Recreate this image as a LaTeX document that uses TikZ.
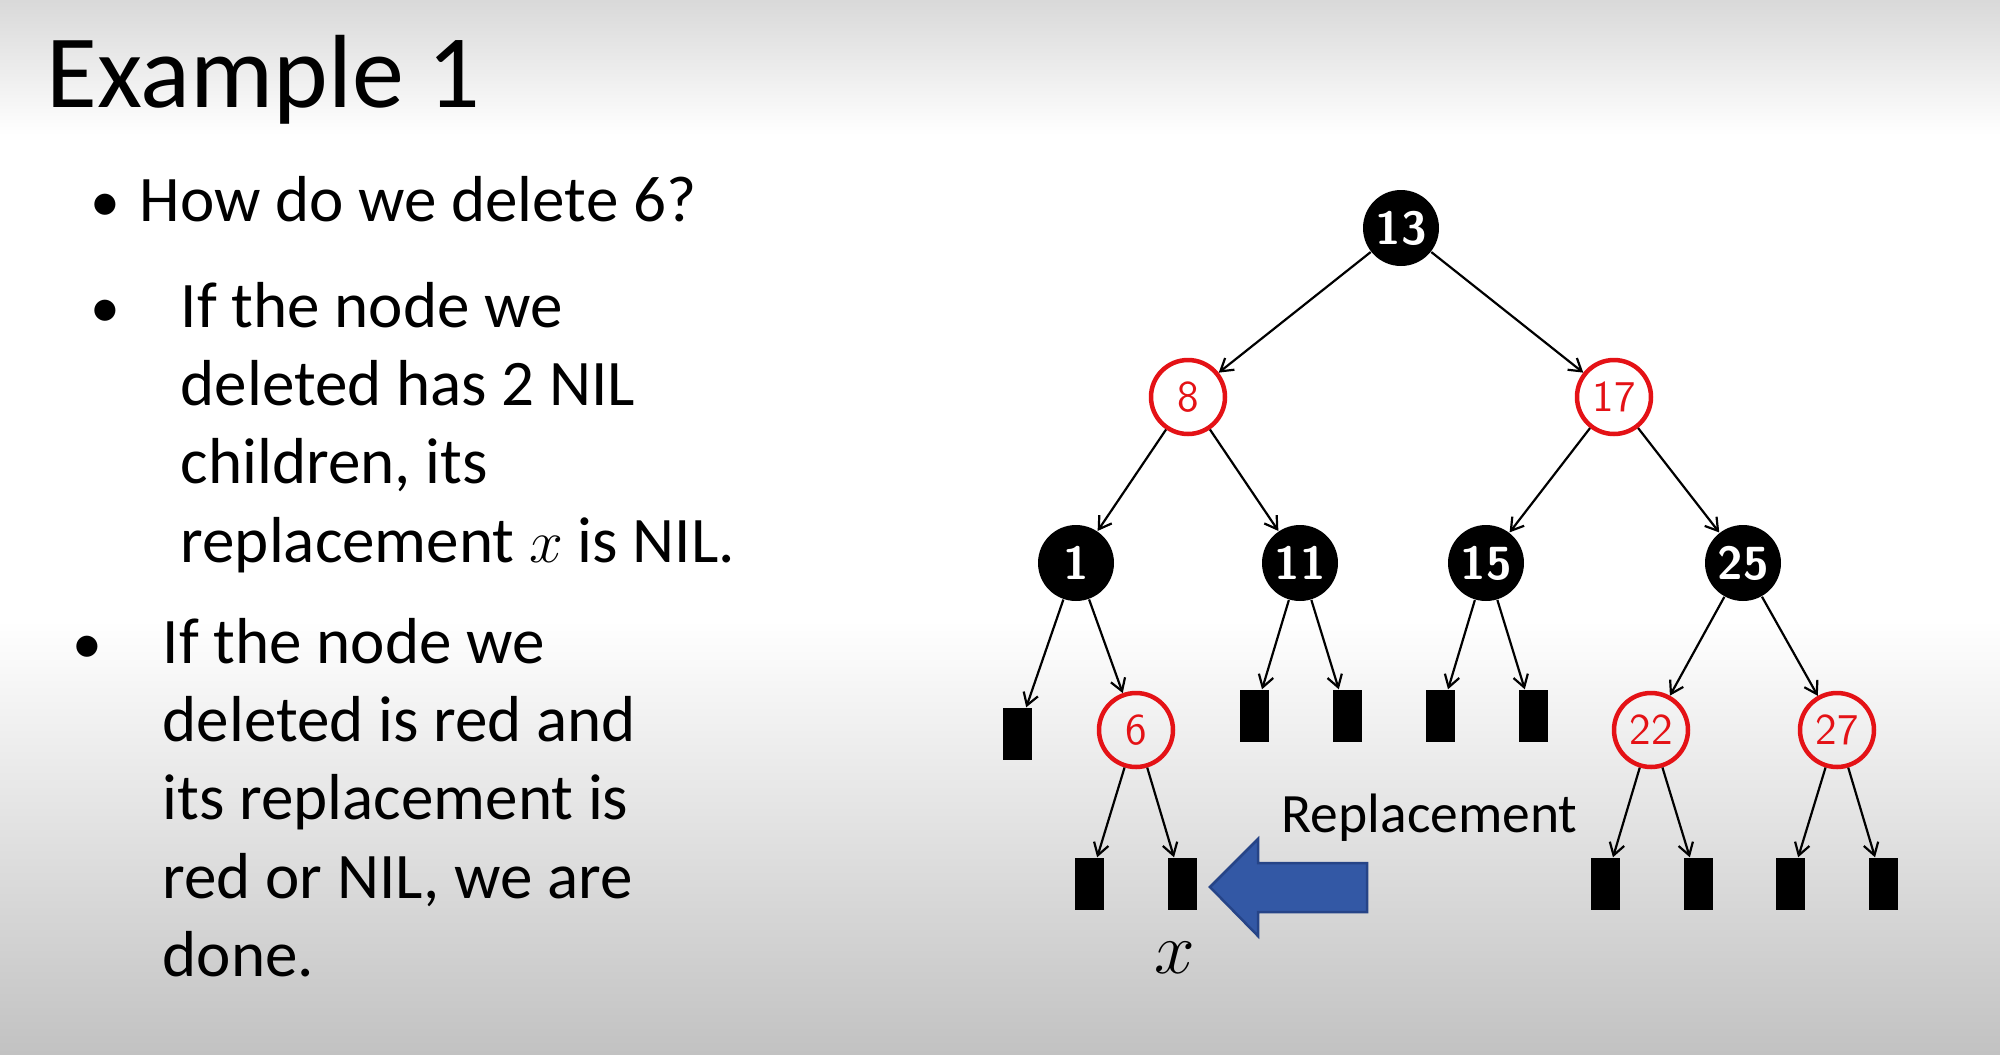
\documentclass[tikz,border=0pt]{standalone}
\usepackage{fontspec}
\setmainfont{Carlito}
\usetikzlibrary{arrows.meta}

\definecolor{rbred}{RGB}{228,18,22}
\definecolor{arrowblue}{RGB}{51,88,165}
\definecolor{arrowedge}{RGB}{38,68,135}
\newcommand{\bodyfont}{\fontsize{18.5}{22.33}\selectfont}

\begin{document}
\begin{tikzpicture}[
	x=0.1mm, y=-0.1mm,
	blk/.style = {circle, fill=black, text=white, minimum size=7.6mm, inner sep=0pt,
		font=\sffamily\bfseries\fontsize{13.2}{13.2}\selectfont},
	rd/.style = {circle, draw=rbred, line width=0.45mm, text=rbred, minimum size=7.4mm,
		inner sep=0pt, font=\sffamily\fontsize{12.5}{12.5}\selectfont},
	nil/.style = {fill=black, minimum width=2.9mm, minimum height=5.2mm, inner sep=0pt},
	arr/.style = {line width=0.22mm, -{Straight Barb[length=1.2mm, width=1.5mm]}},
	txt/.style = {anchor=base west, inner sep=0pt, font=\bodyfont},
	bul/.style = {anchor=base, inner sep=0pt, font=\fontsize{17}{20}\selectfont}
     ]
		\useasboundingbox (0,0) rectangle (2000,1055);
		\fill[white] (0,0) rectangle (2000,1055);
		\shade[top color=black!15, bottom color=white] (0,0) rectangle (2000,135);
		\shade[top color=white, bottom color=black!24] (0,620) rectangle (2000,1055);
%
		\node[anchor=base west, inner sep=0pt, font=\fontsize{29.6}{30}\selectfont] (title) at (46,107) {Example 1};
%
		\node[bul] (b1) at (105,221) {•};
		\node[txt] (t1) at (139,221) {How do we delete 6?};
		\node[bul] (b2) at (105,327) {•};
		\node[txt] (t2) at (180,327) {\parbox[t]{80mm}{If the node we\\ deleted has 2 NIL\\ children, its\\ replacement $x$ is NIL.}};
		\node[bul] (b3) at (87,663) {•};
		\node[txt] (t3) at (162,663) {\parbox[t]{80mm}{If the node we\\ deleted is red and\\ its replacement is\\ red or NIL, we are\\ done.}};
%
		\node[blk] (n13) at (1401,228) {13};
		\node[rd]  (n8)  at (1188,397) {8};
		\node[rd]  (n17) at (1614,397) {17};
		\node[blk] (n1)  at (1076,563) {1};
		\node[blk] (n11) at (1300,563) {11};
		\node[blk] (n15) at (1486,563) {15};
		\node[blk] (n25) at (1743,563) {25};
		\node[nil] (nil1l)  at (1017,734) {};
		\node[rd]  (n6)     at (1136,730) {6};
		\node[nil] (nil11l) at (1254,716) {};
		\node[nil] (nil11r) at (1347,716) {};
		\node[nil] (nil15l) at (1440,716) {};
		\node[nil] (nil15r) at (1533,716) {};
		\node[rd]  (n22)    at (1651,730) {22};
		\node[rd]  (n27)    at (1837,730) {27};
		\node[nil] (nil6l)  at (1089,884) {};
		\node[nil] (nil6r)  at (1182,884) {};
		\node[nil] (nil22l) at (1605,884) {};
		\node[nil] (nil22r) at (1698,884) {};
		\node[nil] (nil27l) at (1790,884) {};
		\node[nil] (nil27r) at (1883,884) {};
%
		\draw[arr] (n13) -- (n8);
		\draw[arr] (n13) -- (n17);
		\draw[arr] (n8) -- (n1);
		\draw[arr] (n8) -- (n11);
		\draw[arr] (n17) -- (n15);
		\draw[arr] (n17) -- (n25);
%
		\draw[arr] (n1) -- (nil1l);
		\draw[arr] (n1) -- (n6);
		\draw[arr] (n11) -- (nil11l);
		\draw[arr] (n11) -- (nil11r);
		\draw[arr] (n15) -- (nil15l);
		\draw[arr] (n15) -- (nil15r);
		\draw[arr] (n25) -- (n22);
		\draw[arr] (n25) -- (n27);
%
		\draw[arr] (n6) -- (nil6l);
		\draw[arr] (n6) -- (nil6r);
		\draw[arr] (n22) -- (nil22l);
		\draw[arr] (n22) -- (nil22r);
		\draw[arr] (n27) -- (nil27l);
		\draw[arr] (n27) -- (nil27r);
%
		\node[anchor=base, inner sep=0pt, font=\fontsize{21}{22}\selectfont] (xlab) at (1175,973) {$x$};
		\node[anchor=base west, inner sep=0pt, font=\fontsize{15.8}{16}\selectfont] (repl) at (1281,832) {Replacement};
		\filldraw[fill=arrowblue, draw=arrowedge, line width=0.25mm]
		(1210,887) -- (1258,839) -- (1258,863) -- (1367,863) -- (1367,912) -- (1258,912) -- (1258,936) -- cycle;
		
\end{tikzpicture}
\end{document}
